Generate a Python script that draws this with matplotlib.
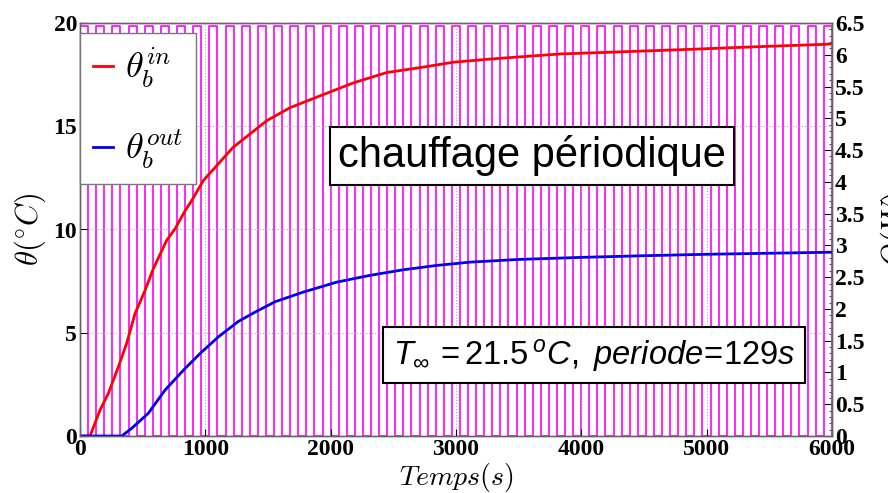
import numpy as np
import matplotlib
matplotlib.use("Agg")
import matplotlib.pyplot as plt

plt.rcParams['mathtext.fontset'] = 'cm'
plt.rcParams['mathtext.rm'] = 'Liberation Sans'
plt.rcParams['mathtext.it'] = 'Liberation Sans:italic'
plt.rcParams['mathtext.bf'] = 'Liberation Sans:bold'

# --- données ---
t_in = [0, 80, 160, 226, 306, 372, 439, 519, 585, 691, 758, 838, 891, 984,
        1220, 1490, 1676, 1915, 2181, 2447, 2713, 2979, 3245, 3511, 3830,
        4300, 4894, 5400, 5957, 6000]
theta_in = [0, 0, 1.26, 2.06, 3.35, 4.48, 5.93, 7.05, 8.1, 9.47, 10.03, 10.9, 11.4, 12.37,
            13.97, 15.27, 15.9, 16.47, 17.1, 17.6, 17.84, 18.1, 18.24, 18.36, 18.5,
            18.6, 18.73, 18.85, 18.97, 19.0]

t_out = [0, 333, 412, 545, 678, 838, 971, 1104, 1264, 1397, 1556, 1782, 2048,
         2314, 2580, 2846, 3112, 3500, 4000, 4500, 5000, 5500, 6000]
theta_out = [0, 0, 0.37, 1.1, 2.22, 3.27, 4.07, 4.8, 5.55, 6.0, 6.5, 6.97, 7.45,
             7.78, 8.05, 8.26, 8.42, 8.55, 8.65, 8.73, 8.8, 8.85, 8.9]

periode = 129.0   # s
Q_max = 6.45      # W
t_fin = 6000

x_ticks = [0, 1000, 2000, 3000, 4000, 5000, 6000]
y_ticks = [0, 5, 10, 15, 20]
q_ticks = [0, 0.5, 1, 1.5, 2, 2.5, 3, 3.5, 4, 4.5, 5, 5.5, 6, 6.5]

# signal créneau de la puissance (50 % haut / 50 % bas)
fronts = np.arange(0, t_fin + periode, periode / 2)
fronts = fronts[fronts <= t_fin]
etat = np.where(np.arange(len(fronts)) % 2 == 0, Q_max, 0.0)

fig = plt.figure(figsize=(8.88, 4.93), dpi=100)
ax = fig.add_axes([80/888, 1 - 436/493, 752/888, 413/493])
ax2 = ax.twinx()

ax2.step(fronts, etat, where='post', color='#ff00ff', lw=1.2)
ax2.set_ylim(0, 6.5)
ax2.set_yticks(q_ticks)
ax2.set_yticklabels([f"{v:g}" for v in q_ticks])
ax2.yaxis.set_minor_locator(matplotlib.ticker.MultipleLocator(0.1))
ax2.tick_params(axis='y', direction='in', length=6, width=0.8, pad=2)
ax2.tick_params(axis='y', which='minor', direction='in', length=2, width=0.5)
ax2.set_ylabel(r'$Q(W)$', fontsize=22, labelpad=10)

ax.set_zorder(ax2.get_zorder() + 1)
ax.patch.set_visible(False)

ax.plot(t_in, theta_in, color='#ff0000', lw=2, label=r'$\theta_b^{in}$')
ax.plot(t_out, theta_out, color='#0000ee', lw=2, label=r'$\theta_b^{out}$')
ax.set_xlim(0, t_fin)
ax.set_ylim(0, 20)
ax.set_xticks(x_ticks)
ax.set_yticks(y_ticks)
ax.tick_params(direction='in', length=5, width=0.8, pad=2)
ax.grid(True, ls=':', color='#aaaaaa', lw=0.8)
ax.set_xlabel(r'$Temps(s)$', fontsize=20, labelpad=1)
ax.set_ylabel(r'$\theta(^{\circ}C)$', fontsize=22, labelpad=4)

for a in (ax, ax2):
    for lab in a.get_xticklabels() + a.get_yticklabels():
        lab.set_fontfamily('Liberation Serif')
        lab.set_fontweight('bold')
        lab.set_fontsize(17)
    for s in a.spines.values():
        s.set_color('#666666')
        s.set_linewidth(1)

leg = ax.legend(loc='upper left', bbox_to_anchor=(0, 0.975), borderaxespad=0,
                fontsize=26, handlelength=0.55, handletextpad=0.35,
                labelspacing=1.05, fancybox=False, framealpha=1,
                edgecolor='#777777', borderpad=0.35)

ax.text(0.601, 0.678, 'chauffage périodique', transform=ax.transAxes,
        fontsize=30, family='Liberation Sans', ha='center', va='center',
        bbox=dict(boxstyle='square,pad=0.2', fc='white', ec='black', lw=1.5))

ax.text(0.6835, 0.196, r'$T_{\infty}\,=\mathrm{21.5}\,^{o}C,\ periode\!=\!\mathrm{129}s$',
        transform=ax.transAxes, fontsize=23.5, ha='center', va='center',
        math_fontfamily='custom',
        bbox=dict(boxstyle='square,pad=0.3', fc='white', ec='black', lw=1.5))

fig.savefig('out.png', dpi=100)
